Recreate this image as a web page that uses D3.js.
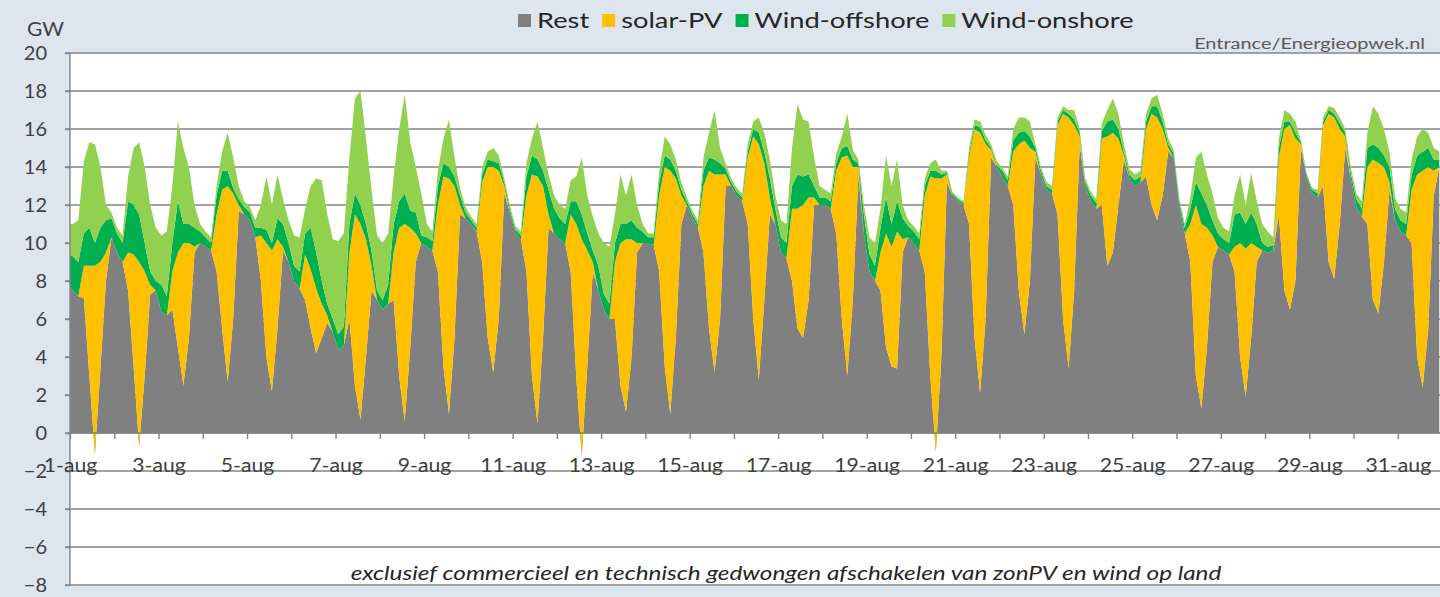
<!DOCTYPE html>
<html>
<head>
<meta charset="utf-8">
<script src="https://cdn.jsdelivr.net/npm/d3@7"></script>
<style>
  body { margin: 0; background: #dde5ef; }
  svg { display: block; font-family: Lato, "Open Sans", sans-serif; }
</style>
</head>
<body>
<svg id="chart" width="1440" height="597"></svg>
<script>
// series, tick labels
const seriesNames = ["Rest", "solar-PV", "Wind-offshore", "Wind-onshore"];
const seriesColors = ["#808080", "#ffc000", "#00b050", "#92d050"];
const dayLabels = ["1-aug", "3-aug", "5-aug", "7-aug", "9-aug", "11-aug", "13-aug", "15-aug",
  "17-aug", "19-aug", "21-aug", "23-aug", "25-aug", "27-aug", "29-aug", "31-aug"];
const yTicks = [-8, -6, -4, -2, 0, 2, 4, 6, 8, 10, 12, 14, 16, 18, 20];

// GW: first value at 1-aug 00:00, then every 3 hours from 1-aug 01:30 (8 values per day)
const rest = [7.6,
  7.5, 7.2, 7.1, 3.0, -1.1, 3.4, 8.0, 10.3,
  9.5, 9.0, 7.5, 3.5, -0.7, 3.0, 7.3, 7.5,
  6.4, 6.2, 6.5, 4.5, 2.5, 5.0, 9.5, 10.0,
  9.8, 9.6, 8.5, 5.5, 2.7, 6.0, 11.7, 11.5,
  11.2, 10.3, 8.0, 4.0, 2.2, 5.5, 9.6, 9.0,
  8.0, 7.6, 7.0, 5.5, 4.2, 5.0, 5.8, 5.3,
  4.4, 4.6, 6.0, 2.5, 0.7, 4.0, 7.5, 7.0,
  6.5, 6.8, 7.0, 3.0, 0.6, 4.5, 9.0, 10.0,
  9.8, 9.6, 8.5, 3.5, 1.0, 5.0, 11.5, 11.3,
  11.0, 10.6, 9.0, 5.0, 3.2, 6.0, 12.6, 11.6,
  10.5, 10.2, 8.5, 3.0, 0.5, 5.0, 10.8, 10.5,
  10.2, 10.0, 8.5, 3.0, -1.2, 3.5, 8.5, 7.5,
  6.5, 6.0, 6.0, 2.5, 1.1, 4.0, 9.5, 10.0,
  10.0, 9.9, 8.5, 3.5, 1.0, 5.0, 11.0, 12.0,
  11.3, 10.8, 9.5, 5.5, 3.2, 6.0, 13.0, 13.0,
  12.5, 12.2, 11.0, 6.0, 2.8, 7.0, 11.5, 11.0,
  9.5, 9.2, 8.0, 5.5, 5.0, 7.0, 12.0, 12.0,
  12.0, 11.8, 10.5, 6.0, 3.0, 7.0, 13.5, 10.5,
  8.5, 8.0, 7.5, 4.5, 3.5, 3.4, 9.5, 10.3,
  10.0, 9.6, 8.5, 3.0, -1.0, 4.0, 13.2, 12.5,
  12.2, 12.0, 11.0, 5.0, 2.1, 6.0, 14.5, 14.0,
  13.5, 13.0, 12.0, 7.5, 5.2, 8.0, 14.5, 13.6,
  12.8, 12.6, 11.5, 6.0, 3.4, 7.5, 15.2, 13.0,
  12.2, 11.8, 12.0, 8.8, 9.5, 12.0, 14.4, 13.4,
  13.0, 13.2, 13.5, 12.0, 11.2, 12.5, 14.8, 14.5,
  12.0, 10.5, 9.0, 3.0, 1.3, 4.5, 9.0, 9.8,
  9.6, 9.4, 8.5, 4.0, 1.9, 5.0, 9.0, 9.6,
  9.5, 9.6, 11.5, 7.5, 6.5, 8.0, 15.0, 13.5,
  12.6, 12.4, 13.0, 9.0, 8.1, 11.0, 15.0, 13.4,
  11.9, 11.4, 11.0, 7.0, 6.3, 9.0, 12.8, 11.2,
  10.6, 10.4, 10.0, 4.0, 2.4, 5.5, 12.5, 14.0
];
const solar = [0,
  0, 0, 1.7, 5.8, 9.9, 5.6, 1.5, 0,
  0, 0, 2.0, 5.9, 9.7, 5.5, 0.5, 0,
  0, 0, 2.0, 5.0, 7.5, 5.0, 0.3, 0,
  0, 0, 3.0, 7.3, 10.3, 6.6, 0.3, 0,
  0, 0, 2.4, 6.0, 7.4, 4.7, 0.2, 0,
  0, 0, 2.4, 3.1, 3.4, 1.8, 0.4, 0,
  0, 0, 3.5, 9.0, 10.3, 6.2, 1.3, 0,
  0, 0, 2.5, 7.8, 10.4, 6.3, 1.5, 0,
  0, 0, 3.5, 10.0, 12.4, 8.0, 0.5, 0,
  0, 0, 4.2, 9.0, 10.8, 7.8, 0.4, 0,
  0, 0, 4.0, 10.6, 13.0, 8.0, 0.7, 0,
  0, 0, 3.0, 8.0, 11.4, 6.1, 0.5, 0,
  0, 0, 3.0, 7.5, 9.1, 6.2, 0.5, 0,
  0, 0, 4.0, 10.5, 12.8, 8.4, 1.5, 0,
  0, 0, 3.5, 8.3, 10.4, 7.6, 0.6, 0,
  0, 0, 3.5, 9.6, 12.4, 7.2, 0.9, 0,
  0, 0, 3.8, 6.3, 7.0, 5.4, 0.4, 0,
  0, 0, 3.3, 8.5, 11.6, 7.0, 0.5, 0,
  0, 0, 2.0, 6.0, 6.3, 7.2, 0.7, 0,
  0, 0, 4.0, 10.5, 14.4, 9.4, 0.4, 0,
  0, 0, 3.5, 11.0, 13.7, 9.2, 0.4, 0,
  0, 0, 2.8, 7.7, 10.2, 7.0, 0.3, 0,
  0, 0, 4.7, 10.8, 13.2, 8.7, 0.4, 0,
  0, 0, 3.5, 6.8, 6.3, 3.5, 0.2, 0,
  0, 0, 2.5, 4.8, 5.4, 3.5, 0.2, 0,
  0, 0, 2.0, 9.0, 9.7, 6.3, 1.4, 0,
  0, 0, 1.3, 6.0, 7.8, 5.0, 0.8, 0,
  0, 0, 3.0, 8.5, 9.7, 7.5, 0.2, 0,
  0, 0, 3.2, 7.8, 8.5, 5.0, 0.6, 0,
  0, 0, 3.0, 7.4, 7.9, 5.0, 0.4, 0,
  0, 0, 2.8, 9.6, 11.4, 8.5, 1.3, 0
];
const offshore = [1.8,
  1.8, 1.8, 1.7, 2.0, 1.2, 1.8, 1.7, 1.0,
  1.0, 1.0, 2.7, 2.6, 2.5, 1.5, 0.7, 0.5,
  1.4, 1.0, 1.5, 2.7, 1.0, 1.0, 1.0, 0.6,
  0.5, 0.4, 1.0, 1.0, 0.8, 0.3, 0.3, 0.4,
  0.4, 0.5, 0.4, 0.7, 0.4, 1.1, 1.2, 1.0,
  0.8, 0.9, 1.1, 2.2, 1.9, 1.2, 0.6, 0.7,
  0.8, 1.0, 1.5, 1.1, 1.0, 0.8, 0.8, 0.5,
  0.5, 1.0, 1.5, 1.4, 1.6, 0.9, 1.1, 0.4,
  0.5, 0.5, 1.0, 0.7, 0.6, 0.5, 0.5, 0.3,
  0.2, 0.2, 0.4, 0.4, 0.3, 0.4, 0.2, 0.2,
  0.2, 0.2, 1.0, 1.0, 0.9, 0.8, 1.3, 1.3,
  1.1, 1.0, 0.7, 1.2, 1.3, 0.9, 0.6, 1.3,
  0.8, 0.8, 1.0, 1.0, 0.8, 1.0, 0.8, 0.6,
  0.3, 0.4, 0.7, 0.6, 0.6, 0.4, 0.3, 0.2,
  0.2, 0.2, 0.8, 0.7, 0.8, 0.6, 0.3, 0.2,
  0.2, 0.2, 0.3, 0.4, 0.6, 0.6, 1.0, 0.8,
  0.8, 0.8, 1.2, 1.8, 1.5, 1.2, 0.6, 0.4,
  0.4, 0.4, 0.4, 0.5, 0.5, 0.4, 0.2, 1.0,
  0.9, 0.8, 1.3, 1.9, 1.2, 1.6, 1.1, 0.6,
  0.6, 0.6, 0.5, 0.3, 0.4, 0.2, 0.1, 0.1,
  0.1, 0.1, 0.2, 0.2, 0.3, 0.2, 0.1, 0.1,
  0.3, 0.3, 0.6, 0.6, 0.5, 0.6, 0.2, 0.2,
  0.2, 0.2, 0.2, 0.2, 0.2, 0.3, 0.2, 0.2,
  0.3, 0.3, 0.4, 0.8, 0.7, 0.5, 0.2, 0.2,
  0.3, 0.3, 0.4, 0.4, 0.6, 0.4, 0.2, 0.2,
  0.2, 0.3, 0.8, 1.2, 1.6, 1.2, 0.8, 0.7,
  0.6, 0.6, 1.7, 1.6, 1.3, 1.6, 1.2, 0.4,
  0.3, 0.3, 0.5, 0.4, 0.2, 0.3, 0.1, 0.1,
  0.2, 0.2, 0.2, 0.2, 0.2, 0.3, 0.2, 0.3,
  0.4, 0.4, 1.0, 0.8, 0.8, 0.6, 0.8, 0.6,
  0.6, 0.6, 0.8, 1.0, 1.0, 1.0, 0.6, 0.4
];
const onshore = [1.6,
  1.7, 2.2, 3.8, 4.5, 5.2, 3.2, 0.8, 0.3,
  0.3, 0.4, 1.3, 3.0, 3.8, 4.0, 3.5, 2.8,
  2.6, 3.4, 3.0, 4.2, 4.0, 3.0, 1.2, 0.4,
  0.3, 0.3, 0.5, 1.0, 2.0, 1.6, 0.7, 0.3,
  0.3, 0.4, 1.2, 2.8, 2.0, 2.3, 1.3, 1.2,
  1.6, 1.8, 1.3, 2.2, 3.9, 5.3, 4.7, 4.2,
  4.9, 4.9, 3.5, 5.0, 6.0, 4.5, 3.2, 2.9,
  3.0, 2.7, 2.5, 3.8, 5.2, 3.6, 2.4, 2.2,
  0.7, 0.5, 0.8, 1.3, 2.5, 1.0, 0.4, 0.3,
  0.2, 0.2, 0.4, 0.4, 0.7, 0.4, 0.2, 0.2,
  0.2, 0.2, 0.7, 0.9, 2.0, 1.2, 0.8, 0.7,
  0.7, 0.8, 1.1, 1.3, 3.0, 2.0, 1.8, 1.7,
  2.7, 3.0, 1.5, 2.6, 1.5, 2.4, 1.2, 0.4,
  0.2, 0.2, 0.6, 1.0, 0.8, 0.6, 0.4, 0.2,
  0.2, 0.2, 0.7, 1.3, 2.6, 0.8, 0.3, 0.2,
  0.2, 0.2, 0.4, 0.4, 0.8, 1.0, 1.0, 0.7,
  0.9, 1.0, 2.0, 3.7, 3.0, 2.8, 1.5, 0.6,
  0.4, 0.4, 0.5, 0.6, 1.7, 0.5, 0.2, 0.5,
  0.9, 1.2, 1.0, 2.2, 2.0, 2.2, 0.7, 0.3,
  0.3, 0.3, 0.4, 0.4, 0.6, 0.2, 0.1, 0.1,
  0.1, 0.1, 0.3, 0.3, 0.3, 0.3, 0.2, 0.2,
  0.2, 0.2, 0.6, 0.8, 0.7, 0.8, 0.2, 0.2,
  0.2, 0.2, 0.2, 0.2, 0.2, 0.5, 0.2, 0.2,
  0.2, 0.2, 0.4, 0.6, 1.1, 0.8, 0.4, 0.3,
  0.3, 0.3, 0.4, 0.4, 0.6, 0.4, 0.3, 0.2,
  0.2, 0.2, 0.6, 1.3, 2.2, 1.6, 1.4, 0.8,
  0.6, 0.6, 1.0, 2.0, 1.0, 2.1, 1.2, 1.0,
  0.8, 0.4, 0.5, 0.6, 0.4, 0.6, 0.1, 0.1,
  0.1, 0.2, 0.2, 0.2, 0.3, 0.3, 0.2, 0.3,
  0.3, 0.4, 0.8, 2.0, 1.8, 1.4, 0.8, 0.6,
  0.6, 0.6, 0.8, 1.0, 1.2, 0.8, 0.6, 0.4
];

const svg = d3.select("#chart");
const plotLeft = 70, plotTop = 53, plotBottom = 585, plotRight = 70 + 31 * 44.26;

const monthStart = new Date(2020, 7, 1);
const firstStep = new Date(2020, 7, 1, 1, 30);
const rows = rest.map((r, i) => ({
  date: i === 0 ? monthStart : d3.timeHour.offset(firstStep, 3 * (i - 1)),
  "Rest": r,
  "solar-PV": solar[i],
  "Wind-offshore": offshore[i],
  "Wind-onshore": onshore[i]
}));

const x = d3.scaleTime()
  .domain([monthStart, new Date(2020, 8, 1)])
  .range([plotLeft, plotRight]);
const y = d3.scaleLinear().domain([-8, 20]).range([plotBottom, plotTop]);

// plot area
svg.append("rect")
  .attr("x", plotLeft).attr("y", plotTop)
  .attr("width", plotRight - plotLeft).attr("height", plotBottom - plotTop)
  .attr("fill", "#ffffff");

svg.append("clipPath").attr("id", "plotClip")
  .append("rect")
  .attr("x", plotLeft).attr("y", plotTop)
  .attr("width", plotRight - plotLeft).attr("height", plotBottom - plotTop);

// gridlines
svg.append("g")
  .selectAll("line")
  .data(yTicks)
  .join("line")
  .attr("x1", plotLeft - 5).attr("x2", plotRight)
  .attr("y1", d => y(d)).attr("y2", d => y(d))
  .attr("stroke", "#848484")
  .attr("stroke-width", 1.4);

// stacked areas
const stacked = d3.stack().keys(seriesNames)(rows);
const area = d3.area()
  .x(d => x(d.data.date))
  .y0(d => y(d[0]))
  .y1(d => y(d[1]));

svg.append("g")
  .attr("clip-path", "url(#plotClip)")
  .selectAll("path")
  .data(stacked)
  .join("path")
  .attr("fill", (d, i) => seriesColors[i])
  .attr("d", area);

// y axis
const yAxis = svg.append("g")
  .attr("transform", `translate(${plotLeft},0)`)
  .call(d3.axisLeft(y).tickValues(yTicks).tickSize(5).tickPadding(18));
yAxis.select(".domain").attr("stroke", "#848484").attr("stroke-width", 1.4)
  .attr("d", `M0,${plotTop}V${plotBottom}`);
yAxis.selectAll(".tick line").attr("stroke", "#848484").attr("stroke-width", 1.4);
yAxis.selectAll(".tick text")
  .attr("fill", "#404040")
  .style("font-size", "20px")
  .style("font-family", "Lato, sans-serif");

// x axis on the zero line
const fmt = d3.timeFormat("%-d");
const xAxis = svg.append("g")
  .attr("transform", `translate(0,${y(0)})`)
  .call(d3.axisBottom(x)
    .ticks(d3.timeDay.every(1))
    .tickSize(6)
    .tickFormat(d => {
      const s = fmt(d) + "-aug";
      return dayLabels.includes(s) && d.getMonth() === 7 ? s : "";
    }));
xAxis.select(".domain").attr("stroke", "#848484").attr("stroke-width", 1.4)
  .attr("d", `M${plotLeft},0H${plotRight}`);
xAxis.selectAll(".tick line").attr("stroke", "#848484").attr("stroke-width", 1.4);
xAxis.selectAll(".tick text")
  .attr("fill", "#404040")
  .attr("y", 39)
  .attr("dy", 0)
  .attr("transform", "scale(1.06,1)")
  .style("font-size", "20px")
  .style("font-family", "Lato, sans-serif");

// horizontally stretched text helper
function wideText(parent, tx, ty, str, sx, anchor) {
  return parent.append("g")
    .attr("transform", `translate(${tx},${ty}) scale(${sx},1)`)
    .append("text")
    .attr("text-anchor", anchor || "start")
    .text(str);
}

// unit label
wideText(svg, 27, 36, "GW", 1.05)
  .attr("fill", "#404040")
  .style("font-size", "20px");

// legend
const legendScale = 1.24;
const legend = svg.append("g").attr("transform", "translate(518,0)");
let lx = 0;
seriesNames.forEach((name, i) => {
  legend.append("rect")
    .attr("x", lx).attr("y", 14)
    .attr("width", 13).attr("height", 13)
    .attr("fill", seriesColors[i]);
  const t = wideText(legend, lx + 19, 28, name, legendScale)
    .attr("fill", "#262626")
    .style("font-size", "22px");
  lx += 19 + t.node().getComputedTextLength() * legendScale + 13;
});

// source
wideText(svg, 1425, 49, "Entrance/Energieopwek.nl", 1.33, "end")
  .attr("fill", "#595959")
  .style("font-size", "15px");

// footnote
wideText(svg, 786, 580, "exclusief commercieel en technisch gedwongen afschakelen van zonPV en wind op land", 1.28, "middle")
  .attr("fill", "#262626")
  .style("font-size", "19px")
  .style("font-style", "italic");
</script>
</body>
</html>
